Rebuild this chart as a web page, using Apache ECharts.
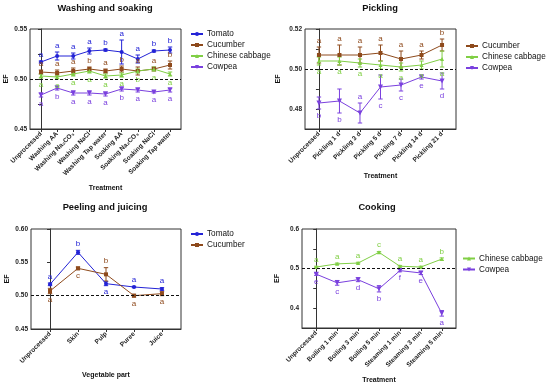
<!DOCTYPE html>
<html><head><meta charset="utf-8">
<script src="https://cdn.jsdelivr.net/npm/echarts@6/dist/echarts.min.js"></script>
<style>html,body{margin:0;padding:0;background:#fff}#c{width:550px;height:385px}</style>
</head><body><div id="c"></div>
<script>
// ---------- data ----------
const cats1 = ['Unprocessed','Washing AA','Washing Na\u2082CO\u2083','Washing NaCl','Washing Tap water','Soaking AA','Soaking Na\u2082CO\u2083','Soaking NaCl','Soaking Tap water'];
const tomato1 = [0.517,0.523,0.523,0.528,0.529,0.527,0.520,0.528,0.529];
const tomato1Err = [0.001,0.004,0.003,0.003,0.001,0.012,0.004,0.001,0.003];
const tomato1Let = ['a','a','a','a','b','a','a','b','b'];
const cucumber1 = [0.507,0.506,0.508,0.510,0.508,0.510,0.508,0.510,0.514];
const cucumber1Err = [0.002,0.003,0.003,0.002,0.002,0.003,0.004,0.002,0.004];
const cucumber1Let = ['a','a','a','b','a','b','a','a','b'];
const cabbage1 = [0.503,0.502,0.505,0.508,0.503,0.504,0.508,0.510,0.505];
const cabbage1Err = [0.002,0.002,0.002,0.002,0.002,0.002,0.002,0.002,0.002];
const cabbage1Let = ['a','a','a','a','a','a','b','a','a'];
const cowpea1 = [0.484,0.491,0.486,0.486,0.485,0.490,0.489,0.487,0.489];
const cowpea1Err = [0.002,0.002,0.002,0.002,0.002,0.002,0.002,0.001,0.002];
const cowpea1Let = ['a','b','a','a','a','b','a','a','a'];

const cats2 = ['Unprocessed','Pickling 1 d','Pickling 3 d','Pickling 5 d','Pickling 7 d','Pickling 14 d','Pickling 21 d'];
const cucumber2 = [0.507,0.507,0.507,0.508,0.505,0.507,0.512];
const cucumber2Err = [0.004,0.005,0.004,0.004,0.004,0.002,0.003];
const cucumber2Let = ['a','a','a','a','a','a','b'];
const cabbage2 = [0.504,0.504,0.503,0.502,0.501,0.502,0.505];
const cabbage2Err = [0.002,0.002,0.002,0.002,0.002,0.002,0.004];
const cabbage2Let = ['a','a','a','a','a','a','a'];
const cowpea2 = [0.483,0.484,0.478,0.491,0.492,0.496,0.494];
const cowpea2Err = [0.003,0.006,0.005,0.006,0.003,0.001,0.004];
const cowpea2Let = ['b','b','a','c','c','e','d'];
const cowpea2Dir = [-1,-1,1,-1,-1,-1,-1];

const cats3 = ['Unprocessed','Skin','Pulp','Puree','Juice'];
const tomato3 = [0.517,0.565,0.518,0.513,0.510];
const tomato3Err = [0.002,0.003,0.003,0.001,0.002];
const tomato3Let = ['a','b','a','a','a'];
const tomato3Dir = [1,1,-1,1,1];
const cucumber3 = [0.507,0.541,0.532,0.500,0.503];
const cucumber3Err = [0.004,0.002,0.010,0.002,0.003];
const cucumber3Let = ['a','c','b','a','a'];
const cucumber3Dir = [-1,-1,1,-1,-1];

const cats4 = ['Unprocessed','Boiling 1 min','Boiling 3 min','Boiling 5 min','Steaming 1 min','Steaming 3 min','Steaming 5 min'];
const cabbage4 = [0.504,0.512,0.514,0.541,0.506,0.504,0.524];
const cabbage4Err = [0.002,0.002,0.002,0.002,0.002,0.002,0.003];
const cabbage4Let = ['a','a','a','c','a','a','b'];
const cowpea4 = [0.486,0.464,0.472,0.449,0.495,0.489,0.387];
const cowpea4Err = [0.003,0.006,0.005,0.008,0.003,0.004,0.007];
const cowpea4Let = ['e','c','d','b','f','e','a'];

// ---------- styles ----------
const COL = {Tomato:'#2323d6', Cucumber:'#8e4a1c', 'Chinese cabbage':'#80cf45', Cowpea:'#7a40de'};
const SYM = {Tomato:'circle', Cucumber:'rect', 'Chinese cabbage':'triangle', Cowpea:'path://M0,0L10,0L5,9Z'};
const FONT = 'Liberation Sans, Arial, sans-serif';

const grids = [
  {left:30, top:29, width:151, height:100},
  {left:305, top:29, width:151, height:100},
  {left:31, top:229, width:150, height:100},
  {left:302, top:229, width:154, height:100}
];
const catsList = [cats1, cats2, cats3, cats4];
const yCfg = [
  {min:0.45, max:0.55, interval:0.05, minor:true, fmt:v=>v.toFixed(2)},
  {min:0.47, max:0.52, interval:0.01, minor:false, fmt:v=>(Math.round(v*100)%2===0? v.toFixed(2):'')},
  {min:0.45, max:0.60, interval:0.05, minor:false, fmt:v=>v.toFixed(2)},
  {min:0.35, max:0.60, interval:0.05, minor:false, fmt:v=>(Math.round(v*100)%10===0? v.toFixed(1):'')}
];
const xNames = ['Treatment','Treatment','Vegetable part','Treatment'];
const xNameGap = [56, 44, 43, 49];
const yNameGap = [20, 23, 20, 21];
const pad = 0.68;

const option = {
  animation:false,
  backgroundColor:'#fff',
  title:[
    {text:'Washing and soaking', left:105, top:4},
    {text:'Pickling', left:380, top:4},
    {text:'Peeling and juicing', left:105, top:203},
    {text:'Cooking', left:377, top:203}
  ].map(t=>Object.assign(t,{textAlign:'center', padding:0, textStyle:{fontFamily:FONT, fontSize:9.3, fontWeight:'bold', color:'#111'}})),
  grid: grids.map(g=>Object.assign({show:true, borderColor:'#333', borderWidth:1, backgroundColor:'transparent'}, g)),
  xAxis: catsList.map((cats,i)=>({
    type:'value', gridIndex:i, min:-pad, max:cats.length-1+pad,
    name:xNames[i], nameLocation:'middle', nameGap:xNameGap[i],
    nameTextStyle:{fontFamily:FONT, fontSize:7, fontWeight:'bold', color:'#111'},
    splitLine:{show:false},
    axisLine:{show:true, lineStyle:{color:'#333', width:1}},
    axisTick:{show:true, length:3, customValues:cats.map((c,k)=>k), lineStyle:{color:'#333'}},
    axisLabel:{customValues:cats.map((c,k)=>k), rotate:45, margin:4, fontFamily:FONT, fontSize:6.5, fontWeight:'bold', color:'#222',
      formatter:v=>cats[Math.round(v)]||''}
  })),
  yAxis: yCfg.map((y,i)=>({
    type:'value', gridIndex:i, min:y.min, max:y.max, interval:y.interval,
    name:'EF', nameLocation:'middle', nameGap:yNameGap[i],
    nameTextStyle:{fontFamily:FONT, fontSize:7, fontWeight:'bold', color:'#111'},
    splitLine:{show:false},
    axisLine:{show:true, lineStyle:{color:'#333', width:1}},
    axisTick:{show:true, length:3, lineStyle:{color:'#333'}},
    minorTick:{show:y.minor, splitNumber:2, length:3, lineStyle:{color:'#333'}},
    minorSplitLine:{show:false},
    axisLabel:{fontFamily:FONT, fontSize:6.5, fontWeight:'bold', color:'#222', margin:3, formatter:y.fmt}
  })),
  legend:[
    {data:['Tomato','Cucumber','Chinese cabbage','Cowpea'], left:190, top:30},
    {data:['Cucumber','Chinese cabbage','Cowpea'], left:465, top:42},
    {data:['Tomato','Cucumber'], left:190, top:230},
    {data:['Chinese cabbage','Cowpea'], left:462, top:254.5}
  ].map(l=>Object.assign(l,{orient:'vertical', padding:0, itemWidth:12, itemHeight:5, itemGap:3,
      textStyle:{fontFamily:FONT, fontSize:8.2, color:'#111', padding:[0,0,0,-1]}})),
  series:[]
};

function addSeries(panel, name, vals, errs, lets, dirs, withRef){
  const c = COL[name];
  const pts = vals.map((v,k)=>[k,v]);
  const s = {
    type:'line', name:name, xAxisIndex:panel, yAxisIndex:panel, data:pts,
    symbol:SYM[name], symbolSize:name==='Cowpea'?5:4, itemStyle:{color:c}, lineStyle:{color:c, width:1}, z:3
  };
  if(withRef){
    s.markLine = {silent:true, symbol:'none', label:{show:false},
      lineStyle:{color:'#111', type:[3,2], width:1}, data:[{yAxis:0.5}]};
  }
  option.series.push(s);
  option.series.push({
    type:'custom', name:name+' err', xAxisIndex:panel, yAxisIndex:panel, z:2,
    data:vals.map((v,k)=>[k,v,errs[k]]),
    renderItem:(params,api)=>{
      const x=api.value(0), y=api.value(1), e=api.value(2);
      const t=api.coord([x,y+e]), b=api.coord([x,y-e]);
      const w=2.2;
      return {type:'group', children:[
        {type:'line', shape:{x1:t[0],y1:t[1],x2:b[0],y2:b[1]}, style:{stroke:c,lineWidth:1}},
        {type:'line', shape:{x1:t[0]-w,y1:t[1],x2:t[0]+w,y2:t[1]}, style:{stroke:c,lineWidth:1}},
        {type:'line', shape:{x1:b[0]-w,y1:b[1],x2:b[0]+w,y2:b[1]}, style:{stroke:c,lineWidth:1}}
      ]};
    }
  });
  option.series.push({
    type:'custom', name:name+' let', xAxisIndex:panel, yAxisIndex:panel, z:4,
    data:vals.map((v,k)=>[k,v,errs[k],dirs[k]]),
    renderItem:(params,api)=>{
      const x=api.value(0), y=api.value(1), e=api.value(2), d=api.value(3);
      const p=api.coord([x,y+d*e]);
      return {type:'text', style:{text:lets[params.dataIndex], x:p[0], y:p[1]-d*6.5,
        fill:c, font:'8px '+FONT, textAlign:'center', textVerticalAlign:'middle'}};
    }
  });
}
const up = n=>Array(n).fill(1), dn = n=>Array(n).fill(-1);

addSeries(0,'Tomato',tomato1,tomato1Err,tomato1Let,up(9),true);
addSeries(0,'Cucumber',cucumber1,cucumber1Err,cucumber1Let,up(9));
addSeries(0,'Chinese cabbage',cabbage1,cabbage1Err,cabbage1Let,dn(9));
addSeries(0,'Cowpea',cowpea1,cowpea1Err,cowpea1Let,dn(9));

addSeries(1,'Cucumber',cucumber2,cucumber2Err,cucumber2Let,up(7),true);
addSeries(1,'Chinese cabbage',cabbage2,cabbage2Err,cabbage2Let,dn(7));
addSeries(1,'Cowpea',cowpea2,cowpea2Err,cowpea2Let,cowpea2Dir);

addSeries(2,'Tomato',tomato3,tomato3Err,tomato3Let,tomato3Dir,true);
addSeries(2,'Cucumber',cucumber3,cucumber3Err,cucumber3Let,cucumber3Dir);

addSeries(3,'Chinese cabbage',cabbage4,cabbage4Err,cabbage4Let,up(7),true);
addSeries(3,'Cowpea',cowpea4,cowpea4Err,cowpea4Let,dn(7));

const chart = echarts.init(document.getElementById('c'), null, {renderer:'canvas'});
chart.setOption(option);
</script></body></html>
